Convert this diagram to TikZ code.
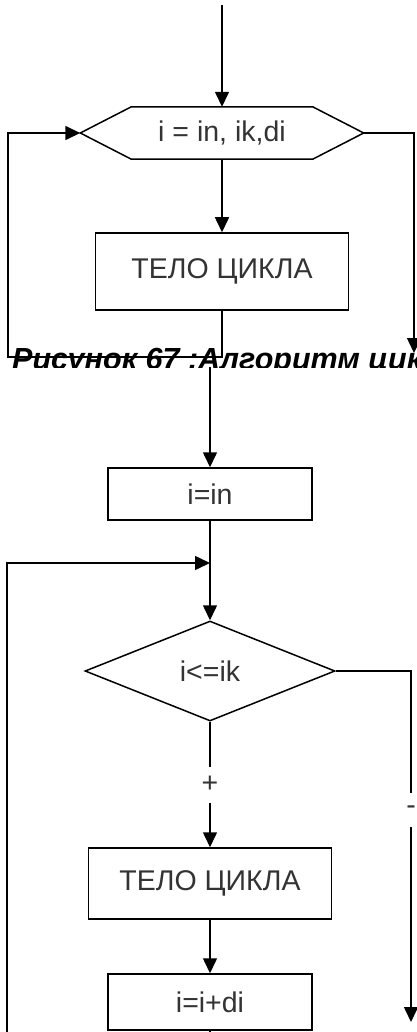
\documentclass[tikz,border=0pt]{standalone}
\usepackage{fontspec}
\setmainfont{Liberation Sans}
\usetikzlibrary{shapes.geometric,arrows.meta}
\begin{document}
\begin{tikzpicture}[x=1pt,y=-1pt,
  line/.style={draw=black, line width=1.5pt},
  arr/.style={line, -{Triangle[length=15pt,width=14pt]}},
  lbl/.style={font=\fontsize{28.5}{32}\selectfont, text=black!80},
  blk/.style={lbl, draw=black, line width=1.5pt, rectangle, inner sep=0pt},
  gap/.style={lbl, fill=white, inner sep=0pt, minimum width=12pt},
]
\useasboundingbox (0,0) rectangle (417,1032);
\clip (0,0) rectangle (417,1032);

% ---------- upper diagram ----------
\coordinate (t0) at (222,5);
\node[lbl, minimum width=283pt, minimum height=52pt, inner sep=0pt] (hex) at (222,133) {i = in, ik,di};
\draw[line] (hex.west) -- ([xshift=51pt]hex.north west) -- ([xshift=-51pt]hex.north east)
  -- (hex.east) -- ([xshift=-51pt]hex.south east) -- ([xshift=51pt]hex.south west) -- cycle;
\node[blk, minimum width=253pt, minimum height=77pt] (body1) at (222,271.5) {ТЕЛО ЦИКЛА};
\coordinate (lc1) at (8,357);
\coordinate (rend1) at (414,353);

\draw[arr] (t0) -- (hex.north);
\draw[arr] (hex.south) -- (body1.north);
\draw[arr] (body1.south) |- (lc1) |- (hex.west);
\draw[arr] (hex.east) -| (rend1);

% ---------- caption ----------
\begin{scope}
  \clip (0,340) rectangle (417,367);
  \node[anchor=base west, inner sep=0pt, font=\fontsize{30.5}{34}\selectfont\bfseries\itshape] (cap) at (12,369.5) {Рисунок 67 :Алгоритм цикла};
\end{scope}

% ---------- lower diagram ----------
\coordinate (t1) at (210,367);
\node[blk, minimum width=204pt, minimum height=52pt] (init) at (210,494) {i=in};
\coordinate (merge) at (210,563);
\node[lbl, diamond, draw=black, line width=1.5pt, aspect=2.5, minimum width=250pt, minimum height=100pt, inner sep=0pt] (dia) at (210,671) {i<=ik};
\node[blk, minimum width=243pt, minimum height=71pt] (body2) at (210,883.5) {ТЕЛО ЦИКЛА};
\node[blk, minimum width=204pt, minimum height=56pt] (inc) at (210,1002) {i=i+di};
\coordinate (rc) at (411,671);
\coordinate (rend2) at (411,1022);
\coordinate (lc2) at (7,1045);

\draw[arr] (t1) -- (init.north);
\draw[arr] (init.south) -- (dia.north);
\draw[arr] (dia.south) -- node[gap, minimum height=36pt] {+} (body2.north);
\draw[arr] (dia.east) -- (rc) -- node[gap, pos=0.396, minimum height=34pt] {-} (rend2);
\draw[arr] (body2.south) -- (inc.north);
\draw[arr] (inc.south) |- (lc2) |- (merge);
\end{tikzpicture}
\end{document}
